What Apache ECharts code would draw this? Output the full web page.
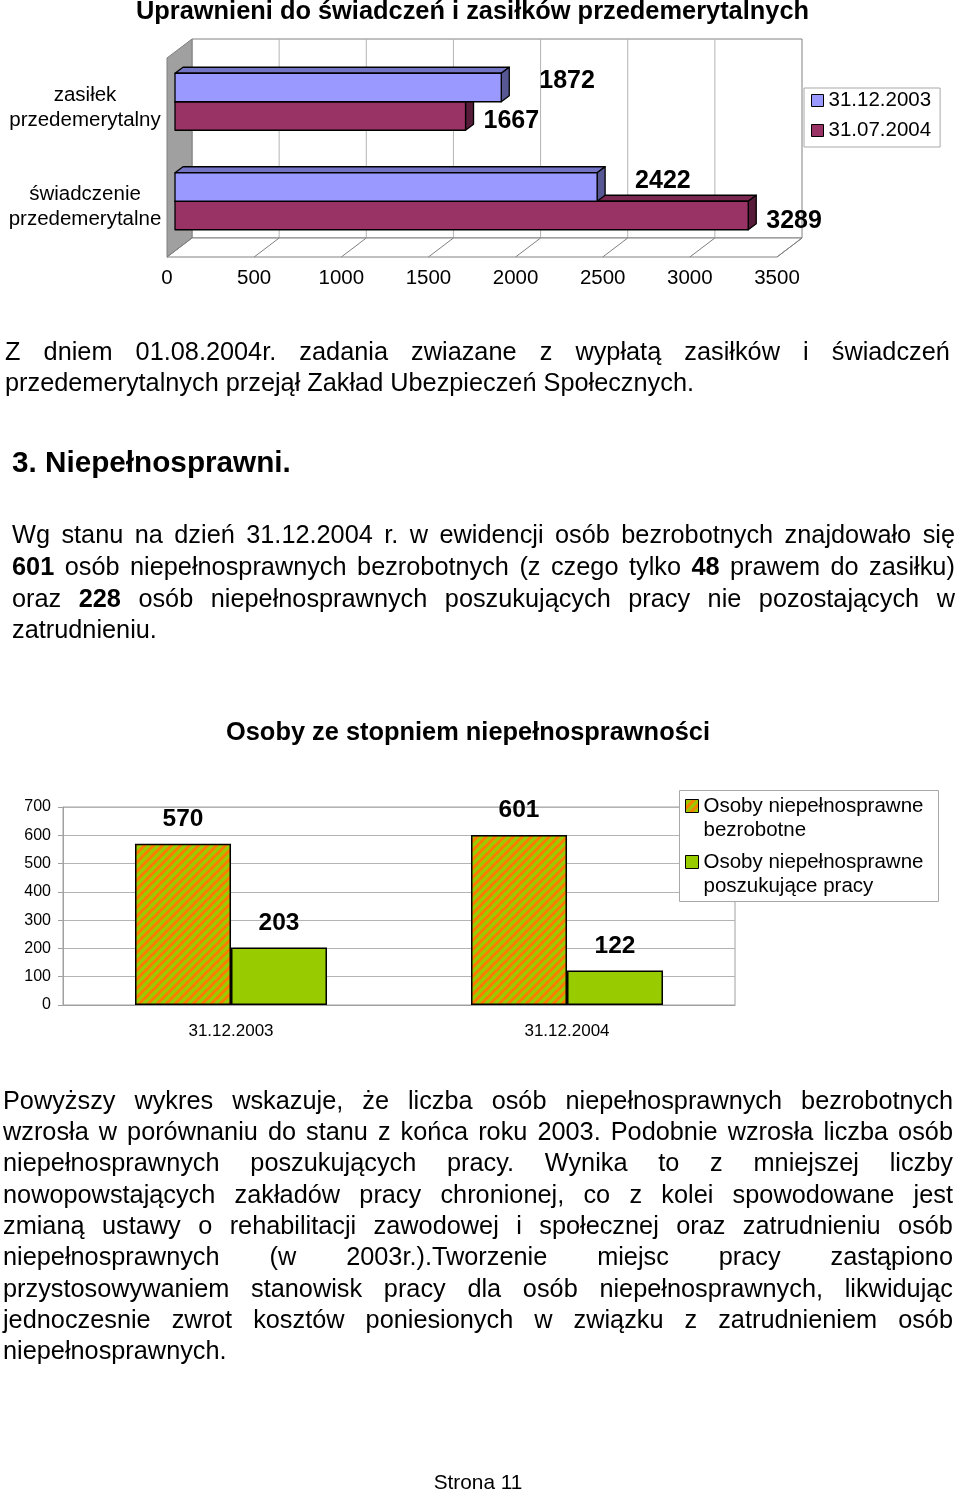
<!DOCTYPE html>
<html><head><meta charset="utf-8">
<script src="https://cdn.jsdelivr.net/npm/echarts@6/dist/echarts.min.js"></script>
<style>
html,body{margin:0;padding:0;background:#fff;}
#chart{position:absolute;left:0;top:0;width:960px;height:1493px;}
.ln{position:absolute;font-family:"Liberation Sans",Arial,sans-serif;font-size:25px;color:#000;white-space:nowrap;height:32px;line-height:32px;}
.j{display:flex;justify-content:space-between;}
</style></head><body>
<div id="chart"></div>
<div id="text"></div>
<script>
// ---------- data ----------
const chart1Categories = ['zasiłek przedemerytalny', 'świadczenie przedemerytalne'];
const chart1Series = ['31.12.2003', '31.07.2004'];
const values2003 = [1872, 2422];
const values2004 = [1667, 3289];
const chart1Ticks = [0, 500, 1000, 1500, 2000, 2500, 3000, 3500];

const chart2Categories = ['31.12.2003', '31.12.2004'];
const chart2Series = ['Osoby niepełnosprawne bezrobotne', 'Osoby niepełnosprawne poszukujące pracy'];
const unemployedDisabled = [570, 601];
const jobSeekingDisabled = [203, 122];
const chart2Ticks = [0, 100, 200, 300, 400, 500, 600, 700];

// ---------- styles ----------
const FONT = '"Liberation Sans", Arial, sans-serif';
const GREY = '#808080';

function stripePattern() {
  const s = 9;
  const c = document.createElement('canvas');
  c.width = s; c.height = s;
  const ctx = c.getContext('2d');
  ctx.fillStyle = '#99cc00';
  ctx.fillRect(0, 0, s, s);
  ctx.strokeStyle = '#ff7a00';
  ctx.lineWidth = 3;
  ctx.beginPath();
  ctx.moveTo(-s, s); ctx.lineTo(s, -s);
  ctx.moveTo(0, 2 * s); ctx.lineTo(2 * s, 0);
  ctx.moveTo(-s, 2 * s); ctx.lineTo(2 * s, -s);
  ctx.stroke();
  return c;
}

const DX = 8, DY = -6;        // bar depth
const FRONT = [-8, 6];        // bar plane -> front plane
const BACK = [17, -13];       // bar plane -> back wall

function bar3d(upper, color, topColor, sideColor) {
  return function (params, api) {
    const cat = api.value(0), val = api.value(1);
    const c0 = api.coord([0, cat]);
    const c1 = api.coord([val, cat]);
    const band = api.size([0, 1])[1];
    const bh = band * 0.2864;
    const y0 = upper ? c0[1] - bh : c0[1];
    const x0 = c0[0], x1 = c1[0];
    const st = (f) => ({ fill: f, stroke: '#000', lineWidth: 1.3, lineJoin: 'round' });
    return {
      type: 'group', children: [
        { type: 'polygon', shape: { points: [[x0, y0], [x1, y0], [x1 + DX, y0 + DY], [x0 + DX, y0 + DY]] }, style: st(topColor) },
        { type: 'polygon', shape: { points: [[x1, y0], [x1 + DX, y0 + DY], [x1 + DX, y0 + bh + DY], [x1, y0 + bh]] }, style: st(sideColor) },
        { type: 'rect', shape: { x: x0, y: y0, width: x1 - x0, height: bh }, style: st(color) },
        { type: 'text', style: { text: String(val), x: x1 + (upper ? 38 : 18), y: y0 + bh / 2 + (upper ? -6 : 5.5),
            align: 'left', verticalAlign: 'middle', font: 'bold 25px ' + FONT, fill: '#000' } }
      ]
    };
  };
}

function frameRender(params, api) {
  const cs = params.coordSys;
  const top = cs.y, bot = cs.y + cs.height;
  const xs = chart1Ticks.map(v => api.coord([v, 0])[0]);
  const xa = xs[0], xb = xs[xs.length - 1];
  const ch = [];
  ch.push({ type: 'polygon', shape: { points: [[xa + BACK[0], top + BACK[1]], [xb + BACK[0], top + BACK[1]], [xb + BACK[0], bot + BACK[1]], [xa + BACK[0], bot + BACK[1]]] },
    style: { fill: '#fff', stroke: GREY, lineWidth: 1 } });
  xs.slice(1, -1).forEach(x => ch.push({ type: 'line', shape: { x1: x + BACK[0], y1: top + BACK[1], x2: x + BACK[0], y2: bot + BACK[1] }, style: { stroke: '#b4b4b4', lineWidth: 1 } }));
  ch.push({ type: 'polygon', shape: { points: [[xa + FRONT[0], top + FRONT[1]], [xa + BACK[0], top + BACK[1]], [xa + BACK[0], bot + BACK[1]], [xa + FRONT[0], bot + FRONT[1]]] },
    style: { fill: '#a0a0a0', stroke: GREY, lineWidth: 1 } });
  ch.push({ type: 'polygon', shape: { points: [[xa + FRONT[0], bot + FRONT[1]], [xb + FRONT[0], bot + FRONT[1]], [xb + BACK[0], bot + BACK[1]], [xa + BACK[0], bot + BACK[1]]] },
    style: { fill: '#fff', stroke: GREY, lineWidth: 1 } });
  xs.forEach(x => ch.push({ type: 'line', shape: { x1: x + FRONT[0], y1: bot + FRONT[1], x2: x + BACK[0], y2: bot + BACK[1] }, style: { stroke: GREY, lineWidth: 1 } }));
  return { type: 'group', children: ch };
}

const chart = echarts.init(document.getElementById('chart'), null, { renderer: 'canvas' });
const pattern = { image: stripePattern(), repeat: 'repeat' };

const option = {
  backgroundColor: '#fff',
  animation: false,
  textStyle: { fontFamily: FONT, color: '#000' },
  title: [
    { text: 'Uprawnieni do świadczeń i zasiłków przedemerytalnych', left: 136, top: -1, padding: 0,
      textStyle: { fontSize: 25.4, fontWeight: 'bold', color: '#000', fontFamily: FONT } },
    { text: 'Osoby ze stopniem niepełnosprawności', left: 226, top: 720, padding: 0,
      textStyle: { fontSize: 25.4, fontWeight: 'bold', color: '#000', fontFamily: FONT } }
  ],
  legend: [
    { data: chart1Series, orient: 'vertical', left: 804, top: 88, padding: [2, 9, 6, 7], itemGap: 9,
      itemWidth: 12, itemHeight: 12, icon: 'rect', borderColor: '#a8a8a8', borderWidth: 1, backgroundColor: '#fff',
      itemStyle: { borderColor: '#000', borderWidth: 1 },
      textStyle: { fontSize: 20.5, color: '#000', fontFamily: FONT } },
    { data: chart2Series, orient: 'vertical', left: 685, top: 770, padding: 0, itemGap: -16, z: 20,
      itemWidth: 13, itemHeight: 13, icon: 'rect',
      itemStyle: { borderColor: '#000', borderWidth: 1 },
      formatter: n => '\n' + n.replace('niepełnosprawne ', 'niepełnosprawne\n'),
      textStyle: { fontSize: 20.5, lineHeight: 24, color: '#000', fontFamily: FONT } }
  ],
  graphic: [
    { type: 'rect', z: 10, shape: { x: 679.5, y: 790.5, width: 259, height: 111 }, style: { fill: '#fff', stroke: '#a8a8a8', lineWidth: 1 } }
  ],
  grid: [
    { left: 175, top: 52, width: 610, height: 199 },
    { left: 167, top: 58, width: 610, height: 199 },
    { left: 63, top: 807, width: 672, height: 198, show: true, borderColor: '#a0a0a0', borderWidth: 1, backgroundColor: 'transparent' }
  ],
  xAxis: [
    { gridIndex: 0, type: 'value', min: 0, max: 3500, interval: 500, show: false },
    { gridIndex: 1, type: 'value', min: 0, max: 3500, interval: 500,
      axisLine: { show: false }, axisTick: { show: false }, splitLine: { show: false },
      axisLabel: { fontSize: 20.5, margin: 11, color: '#000', fontFamily: FONT, formatter: v => String(v) } },
    { gridIndex: 2, type: 'category', data: chart2Categories,
      axisLine: { lineStyle: { color: '#a0a0a0' } }, axisTick: { length: 5, lineStyle: { color: '#a0a0a0' } },
      axisLabel: { fontSize: 17, margin: 18, color: '#000', fontFamily: FONT } }
  ],
  yAxis: [
    { gridIndex: 0, type: 'category', data: chart1Categories, inverse: true, show: false },
    { gridIndex: 1, type: 'category', data: chart1Categories, inverse: true,
      axisLine: { lineStyle: { color: GREY } }, axisTick: { length: 5, lineStyle: { color: GREY } },
      axisLabel: { margin: 82, align: 'center', fontSize: 20.5, lineHeight: 25, color: '#000', fontFamily: FONT,
        formatter: s => s.split(' ').join('\n') } },
    { gridIndex: 2, type: 'value', min: 0, max: 700, interval: 100,
      axisLine: { show: true, lineStyle: { color: '#a0a0a0' } }, axisTick: { show: true, length: 5, lineStyle: { color: '#a0a0a0' } },
      splitLine: { lineStyle: { color: '#b4b4b4' } },
      axisLabel: { fontSize: 16, margin: 12, color: '#000', fontFamily: FONT } }
  ],
  series: [
    { type: 'custom', name: 'frame', xAxisIndex: 0, yAxisIndex: 0, z: 1, silent: true,
      data: [[0, 0]], encode: { x: 0, y: 1 }, renderItem: frameRender },
    { type: 'custom', name: chart1Series[1], xAxisIndex: 0, yAxisIndex: 0, z: 2,
      itemStyle: { color: '#993366', borderColor: '#000', borderWidth: 1 },
      data: values2004.map((v, i) => [i, v]), encode: { x: 1, y: 0 },
      renderItem: bar3d(false, '#993366', '#7a2850', '#561c39') },
    { type: 'custom', name: chart1Series[0], xAxisIndex: 0, yAxisIndex: 0, z: 3,
      itemStyle: { color: '#9999ff', borderColor: '#000', borderWidth: 1 },
      data: values2003.map((v, i) => [i, v]), encode: { x: 1, y: 0 },
      renderItem: bar3d(true, '#9999ff', '#7474c4', '#575793') },
    { type: 'bar', name: chart2Series[0], xAxisIndex: 2, yAxisIndex: 2, data: unemployedDisabled,
      barWidth: 96, barGap: '0%',
      itemStyle: { color: pattern, borderColor: '#000', borderWidth: 1.5 },
      label: { show: true, position: 'top', distance: 12, fontSize: 24.5, fontWeight: 'bold', color: '#000', fontFamily: FONT } },
    { type: 'bar', name: chart2Series[1], xAxisIndex: 2, yAxisIndex: 2, data: jobSeekingDisabled,
      barWidth: 96, barGap: '0%',
      itemStyle: { color: '#99cc00', borderColor: '#000', borderWidth: 1.5 },
      label: { show: true, position: 'top', distance: 12, fontSize: 24.5, fontWeight: 'bold', color: '#000', fontFamily: FONT } }
  ]
};
chart.setOption(option);

// ---------- page text ----------
const textLines = [
  { t: 'Z dniem 01.08.2004r. zadania zwiazane z wypłatą zasiłków i świadczeń', x: 5, r: 950, y: 351, j: true },
  { t: 'przedemerytalnych przejął Zakład Ubezpieczeń Społecznych.', x: 5, y: 382 },
  { t: '*3. Niepełnosprawni.*', x: 12, y: 462, fs: 29.7 },
  { t: 'Wg stanu na dzień 31.12.2004 r. w ewidencji osób bezrobotnych znajdowało się', x: 12, r: 955, y: 534, j: true },
  { t: '*601* osób niepełnosprawnych bezrobotnych (z czego tylko *48* prawem do zasiłku)', x: 12, r: 955, y: 566, j: true },
  { t: 'oraz *228* osób niepełnosprawnych poszukujących pracy nie pozostających w', x: 12, r: 955, y: 598, j: true },
  { t: 'zatrudnieniu.', x: 12, y: 629 },
  { t: 'Powyższy wykres wskazuje, że liczba osób niepełnosprawnych bezrobotnych', x: 3, r: 953, y: 1100, j: true },
  { t: 'wzrosła w porównaniu do stanu z końca roku 2003. Podobnie wzrosła liczba osób', x: 3, r: 953, y: 1131, j: true },
  { t: 'niepełnosprawnych poszukujących pracy. Wynika to z mniejszej liczby', x: 3, r: 953, y: 1162, j: true },
  { t: 'nowopowstających zakładów pracy chronionej, co z kolei spowodowane jest', x: 3, r: 953, y: 1194, j: true },
  { t: 'zmianą ustawy o rehabilitacji zawodowej i społecznej oraz zatrudnieniu osób', x: 3, r: 953, y: 1225, j: true },
  { t: 'niepełnosprawnych (w 2003r.).Tworzenie miejsc pracy zastąpiono', x: 3, r: 953, y: 1256, j: true },
  { t: 'przystosowywaniem stanowisk pracy dla osób niepełnosprawnych, likwidując', x: 3, r: 953, y: 1288, j: true },
  { t: 'jednoczesnie zwrot kosztów poniesionych w związku z zatrudnieniem osób', x: 3, r: 953, y: 1319, j: true },
  { t: 'niepełnosprawnych.', x: 3, y: 1350 },
  { t: 'Strona 11', x: 378, r: 578, y: 1482, fs: 20.8, c: true }
];
const holder = document.getElementById('text');
function fmt(w) { return w.replace(/\*([^*]+)\*/g, '<b>$1</b>'); }
textLines.forEach(L => {
  const d = document.createElement('div');
  d.className = 'ln' + (L.j ? ' j' : '');
  const fs = L.fs || 25.3;
  d.style.fontSize = fs + 'px';
  d.style.left = L.x + 'px';
  d.style.top = (L.y - 16) + 'px';
  if (L.r) d.style.width = (L.r - L.x) + 'px';
  if (L.c) d.style.textAlign = 'center';
  if (L.j) {
    d.innerHTML = L.t.split(' ').map(w => '<span>' + fmt(w) + '</span>').join('');
  } else {
    d.innerHTML = fmt(L.t);
  }
  holder.appendChild(d);
});
</script>
</body></html>
